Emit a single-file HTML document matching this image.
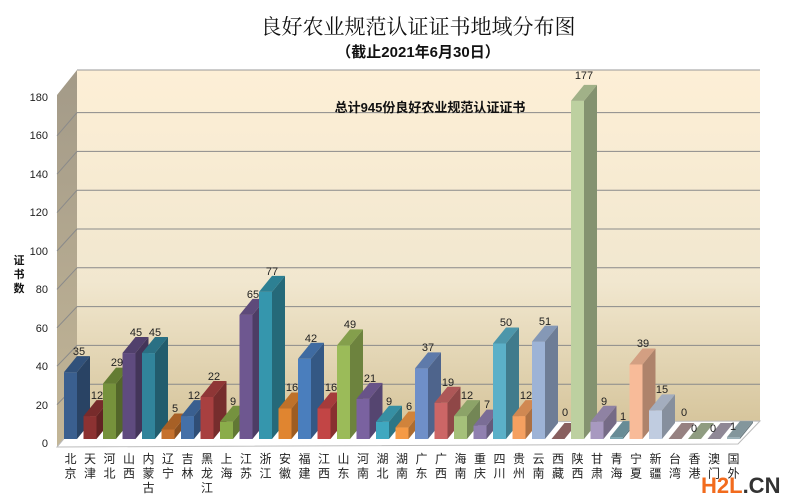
<!DOCTYPE html>
<html><head><meta charset="utf-8"><style>
html,body{margin:0;padding:0;background:#fff;width:785px;height:501px;overflow:hidden}
svg{display:block}
.c{font:12px "Liberation Sans","Noto Sans CJK SC",sans-serif;fill:#222;text-anchor:middle}
.v{font:11px "Liberation Sans",sans-serif;fill:#222;text-anchor:middle}
.t{font:11px "Liberation Sans",sans-serif;fill:#222;text-anchor:end}
</style></head><body>
<svg id="s" width="785" height="501" viewBox="0 0 785 501" xmlns="http://www.w3.org/2000/svg">
<defs>
<linearGradient id="bw" x1="0" y1="0" x2="0" y2="1"><stop offset="0" stop-color="#fdefd6"/><stop offset="0.6" stop-color="#f1e7cf"/><stop offset="1" stop-color="#d6c59c"/></linearGradient>
<linearGradient id="sw" x1="0" y1="0" x2="0" y2="1"><stop offset="0" stop-color="#a39a88"/><stop offset="1" stop-color="#c3b697"/></linearGradient>
</defs>
<rect x="0" y="0" width="785" height="501" fill="#fff"/>
<text x="418" y="34" style="font:21px 'Liberation Serif','Noto Serif CJK SC',serif;fill:#111;text-anchor:middle">良好农业规范认证证书地域分布图</text>
<text x="418" y="57" style="font:bold 15px 'Liberation Sans','Noto Sans CJK SC',sans-serif;fill:#111;text-anchor:middle">（截止2021年6月30日）</text>
<polygon points="77,70 760,70 760,421 77,423" fill="url(#bw)"/>
<polygon points="57,95 77,70 77,423 57,447" fill="url(#sw)"/>
<polygon points="57,447 77,423 760,421 738,444" fill="#fff" stroke="#bbb"/>
<line x1="77" y1="70" x2="760" y2="70" stroke="#999"/>
<g id="grid" stroke="#8a8a8a" stroke-width="1"></g>
<text x="430" y="112" style="font:bold 13px 'Liberation Sans','Noto Sans CJK SC',sans-serif;fill:#111;text-anchor:middle">总计945份良好农业规范认证证书</text>
<g id="bars"></g>
<g>
<text class="t" x="48" y="447">0</text><text class="t" x="48" y="409">20</text><text class="t" x="48" y="370">40</text><text class="t" x="48" y="332">60</text><text class="t" x="48" y="293">80</text><text class="t" x="48" y="255">100</text><text class="t" x="48" y="216">120</text><text class="t" x="48" y="178">140</text><text class="t" x="48" y="139">160</text><text class="t" x="48" y="101">180</text>
</g>
<g style="font:bold 11px 'Liberation Sans','Noto Sans CJK SC',sans-serif;fill:#111;text-anchor:middle">
<text x="19" y="264">证</text><text x="19" y="278">书</text><text x="19" y="292">数</text></g>
<g class="v">
<text x="79" y="355">35</text><text x="97" y="399">12</text><text x="117" y="366">29</text><text x="136" y="336">45</text><text x="155" y="336">45</text><text x="175" y="412">5</text><text x="194" y="399">12</text><text x="214" y="380">22</text><text x="233" y="405">9</text><text x="253" y="298">65</text><text x="272" y="275">77</text><text x="292" y="391">16</text><text x="311" y="342">42</text><text x="331" y="391">16</text><text x="350" y="328">49</text><text x="370" y="382">21</text><text x="389" y="405">9</text><text x="409" y="410">6</text><text x="428" y="351">37</text><text x="448" y="386">19</text><text x="467" y="399">12</text><text x="487" y="408">7</text><text x="506" y="326">50</text><text x="526" y="399">12</text><text x="545" y="325">51</text><text x="565" y="416">0</text><text x="584" y="79">177</text><text x="604" y="405">9</text><text x="623" y="420">1</text><text x="643" y="347">39</text><text x="662" y="393">15</text><text x="684" y="416">0</text><text x="694" y="432">0</text><text x="713" y="432">0</text><text x="733" y="430">1</text>
</g>
<g class="c" id="cats"></g>
<text x="701" y="493" style="font:bold 22px 'Liberation Sans',sans-serif;fill:#f26b1d">H2L<tspan fill="#333">.CN</tspan></text>
</svg>
<script>
var vals=[35,12,29,45,45,5,12,22,9,65,77,16,42,16,49,21,9,6,37,19,12,7,50,12,51,0,177,9,1,39,15,0,0,0,1];
var cols=["#3a5f8f","#8c3232","#76923c","#5f4b7f","#31849b","#c5712d","#4470a8","#a84040","#8aac4a","#6e5790","#3596ad","#e08530","#4a7ebd","#c24545","#9bbb59","#7a62a0","#3fa8c0","#f59a45","#6f8fc8","#cc6666","#a5c07a","#9080b0","#5bb0c8","#f5a060","#9db3d6","#a07070","#bdd0a0","#a899c0","#7aa5b0","#f8bb99","#c0cce0","#b09898","#a8b898","#a8a0b0","#9ab0b8"];
var cats=["北京","天津","河北","山西","内蒙古","辽宁","吉林","黑龙江","上海","江苏","浙江","安徽","福建","江西","山东","河南","湖北","湖南","广东","广西","海南","重庆","四川","贵州","云南","西藏","陕西","甘肃","青海","宁夏","新疆","台湾","香港","澳门","国外"];
function sh(c,f){var n=parseInt(c.slice(1),16),r=n>>16,g=(n>>8)&255,b=n&255;r=Math.min(255,Math.round(r*f));g=Math.min(255,Math.round(g*f));b=Math.min(255,Math.round(b*f));return "rgb("+r+","+g+","+b+")";}
var ns="http://www.w3.org/2000/svg",gb=document.getElementById("bars"),gg=document.getElementById("grid"),gc=document.getElementById("cats");
function el(t,a,p){var e=document.createElementNS(ns,t);for(var k in a)e.setAttribute(k,a[k]);p.appendChild(e);return e;}
for(var v=20;v<=160;v+=20){var yb=423-v*1.94,yf=443-v*1.92;el("line",{x1:77,y1:yb,x2:760,y2:yb},gg);el("line",{x1:57,y1:yf,x2:77,y2:yb},gg);}
var dx=13,dy=-16,w=13,base=439;
for(var i=0;i<vals.length;i++){var x=64+19.5*i,h=vals[i]*1.91,t=base-h,c=cols[i];
 if(vals[i]>0){
 el("rect",{x:x,y:t,width:w,height:h,fill:c},gb);
 el("polygon",{points:(x+w)+","+t+" "+(x+w+dx)+","+(t+dy)+" "+(x+w+dx)+","+(base+dy)+" "+(x+w)+","+base,fill:sh(c,0.7)},gb);}
 el("polygon",{points:x+","+t+" "+(x+dx)+","+(t+dy)+" "+(x+w+dx)+","+(t+dy)+" "+(x+w)+","+t,fill:sh(c,0.85)},gb);
 var s=cats[i];for(var j=0;j<s.length;j++){var e=el("text",{x:x+6.5,y:463+j*14.5},gc);e.textContent=s[j];}
}
</script>
</body></html>
